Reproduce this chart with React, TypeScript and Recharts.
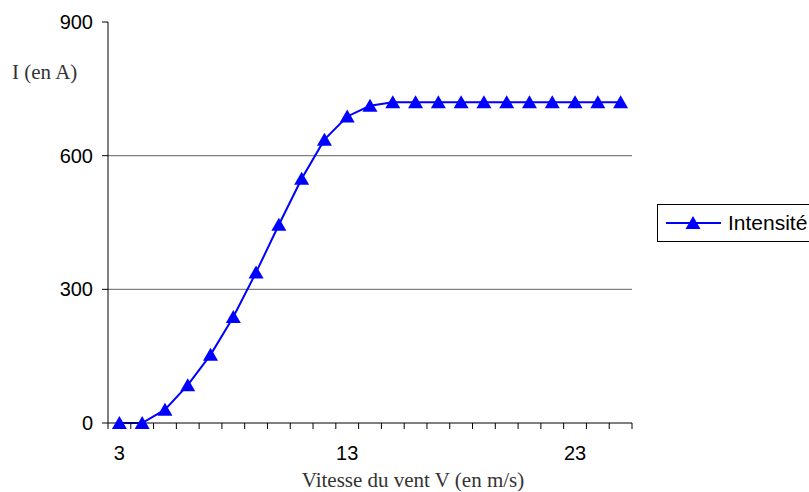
import React from 'react'
import { LineChart, Line, XAxis, YAxis, ReferenceLine } from 'recharts'

// vitesse du vent (m/s) et intensité (A)
const vitesses = [3, 4, 5, 6, 7, 8, 9, 10, 11, 12, 13, 14, 15, 16, 17, 18, 19, 20, 21, 22, 23, 24, 25]
const intensites = [0, 0, 30, 85, 153, 238, 338, 445, 548, 636, 688, 712, 720, 720, 720, 720, 720, 720, 720, 720, 720, 720, 720]
const yTicks = [0, 300, 600, 900]
const gridValues = [300, 600]

const data = vitesses.map((v, i) => ({ v, intensite: intensites[i] }))

const W = 809
const H = 492
const PLOT_LEFT = 108
const PLOT_RIGHT = 632
const PLOT_TOP = 22
const PLOT_BOTTOM = 423
const BAND = (PLOT_RIGHT - PLOT_LEFT) / vitesses.length
const BLUE = '#0000FF'
const SANS = 'Liberation Sans, Arial, sans-serif'
const SERIF = 'Liberation Serif, serif'

function Triangle({ cx, cy }: any) {
  if (cx == null || cy == null) return null
  return <polygon points={`${cx},${cy - 7} ${cx - 7.5},${cy + 6} ${cx + 7.5},${cy + 6}`} fill={BLUE} />
}

function XTick({ x, payload, index }: any) {
  const left = x - BAND / 2
  return (
    <g>
      <line x1={left} x2={left} y1={PLOT_BOTTOM} y2={PLOT_BOTTOM + 6} stroke="#000" />
      {index === vitesses.length - 1 && (
        <line x1={x + BAND / 2} x2={x + BAND / 2} y1={PLOT_BOTTOM} y2={PLOT_BOTTOM + 6} stroke="#000" />
      )}
      {index % 10 === 0 && (
        <text x={x} y={PLOT_BOTTOM + 37} textAnchor="middle" fontSize={20} fill="#000" fontFamily={SANS}>
          {payload.value}
        </text>
      )}
    </g>
  )
}

export default function App() {
  return (
    <div style={{ position: 'absolute', left: 0, top: 0, width: W, height: H, background: '#fff' }}>
      <LineChart
        width={W}
        height={H}
        data={data}
        margin={{ top: PLOT_TOP, right: W - PLOT_RIGHT, bottom: 0, left: 0 }}
      >
        {gridValues.map((g) => (
          <ReferenceLine key={g} y={g} stroke="#808080" strokeWidth={1.3} />
        ))}
        <XAxis
          dataKey="v"
          interval={0}
          height={H - PLOT_BOTTOM}
          padding={{ left: BAND / 2, right: BAND / 2 }}
          tickLine={false}
          tickSize={0}
          tickMargin={0}
          stroke="#000"
          tick={<XTick />}
          label={{
            content: () => (
              <text x={413} y={487} textAnchor="middle" fontSize={21} fill="#333" fontFamily={SERIF}>
                Vitesse du vent V (en m/s)
              </text>
            ),
          }}
        />
        <YAxis
          width={PLOT_LEFT}
          domain={[0, 900]}
          ticks={yTicks}
          interval={0}
          tickSize={6}
          tickMargin={9}
          stroke="#000"
          tick={{ fontSize: 20, fill: '#000', fontFamily: SANS }}
          label={{
            content: () => (
              <text x={12} y={79} fontSize={21} fill="#333" fontFamily={SERIF}>
                I (en A)
              </text>
            ),
          }}
        />
        <Line
          type="linear"
          dataKey="intensite"
          name="Intensité"
          stroke={BLUE}
          strokeWidth={2}
          dot={<Triangle />}
          activeDot={false}
          isAnimationActive={false}
        />
      </LineChart>
      <div
        style={{
          position: 'absolute',
          left: 657,
          top: 204,
          width: 160,
          height: 38,
          border: '1px solid #000',
          boxSizing: 'border-box',
          background: '#fff',
          display: 'flex',
          alignItems: 'center',
        }}
      >
        <svg width={64} height={20} style={{ marginLeft: 6 }}>
          <line x1={2} x2={57} y1={10} y2={10} stroke={BLUE} strokeWidth={2} />
          <polygon points="29,3 21.5,16 36.5,16" fill={BLUE} />
        </svg>
        <span style={{ fontFamily: SANS, fontSize: 21, color: '#000', marginLeft: 0 }}>
          Intensité
        </span>
      </div>
    </div>
  )
}
